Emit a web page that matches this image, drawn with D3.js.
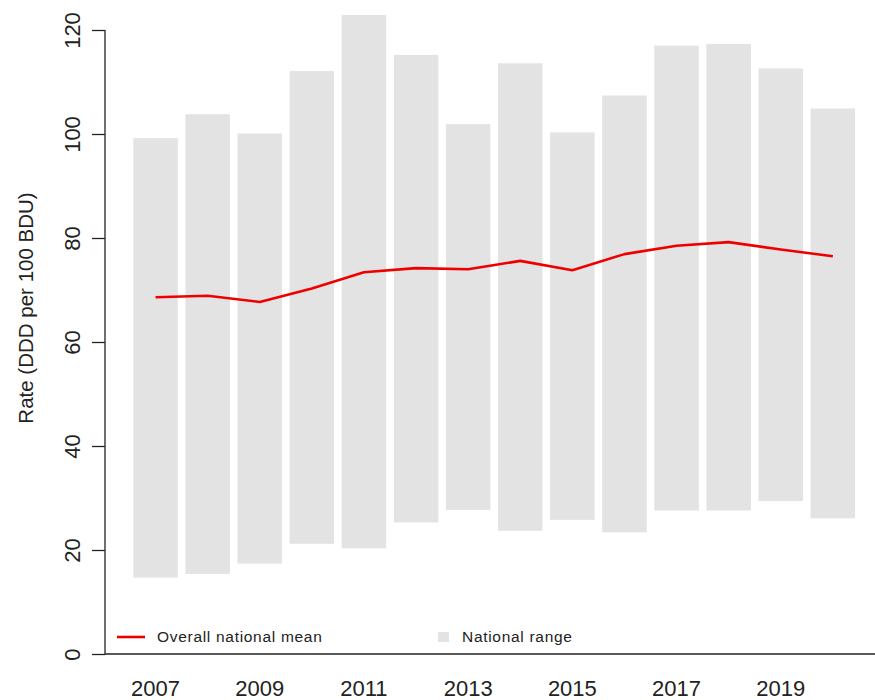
<!DOCTYPE html>
<html>
<head>
<meta charset="utf-8">
<script src="https://cdn.jsdelivr.net/npm/d3@7"></script>
<style>
  html, body { margin: 0; padding: 0; background: #fff; }
  svg { display: block; }
  text { font-family: "Liberation Sans Narrow", "Arial Narrow", "Liberation Sans", Arial, sans-serif; fill: #222; }
  text.legend { font-family: "Liberation Sans", Arial, sans-serif; }
</style>
</head>
<body>
<svg id="chart" width="875" height="700"></svg>
<script>
// Antibiotic use rate per year: national range (min–max) and overall national mean
const years = [2007, 2008, 2009, 2010, 2011, 2012, 2013, 2014, 2015, 2016, 2017, 2018, 2019, 2020];
const rangeMin = [14.7, 15.4, 17.4, 21.2, 20.3, 25.3, 27.7, 23.7, 25.8, 23.4, 27.6, 27.6, 29.4, 26.1];
const rangeMax = [99.2, 103.8, 100.1, 112.1, 122.9, 115.2, 101.9, 113.6, 100.3, 107.4, 117.0, 117.3, 112.6, 104.9];
const nationalMean = [68.6, 68.9, 67.7, 70.3, 73.4, 74.2, 74.0, 75.6, 73.8, 76.9, 78.5, 79.2, 77.8, 76.5];
const yTicks = [0, 20, 40, 60, 80, 100, 120];
const xTickYears = [2007, 2009, 2011, 2013, 2015, 2017, 2019];

const svg = d3.select("#chart");

const x = d3.scaleBand()
  .domain(years)
  .range([129.5, 858.9])
  .paddingInner(0.146)
  .paddingOuter(0.073);

const y = d3.scaleLinear().domain([0, 120]).range([654, 30]);

// Range bars
svg.append("g")
  .selectAll("rect")
  .data(years)
  .join("rect")
  .attr("x", d => x(d))
  .attr("width", x.bandwidth())
  .attr("y", (d, i) => y(rangeMax[i]))
  .attr("height", (d, i) => y(rangeMin[i]) - y(rangeMax[i]))
  .attr("fill", "#e3e3e3");

// Mean line
const line = d3.line()
  .x((d, i) => x(years[i]) + x.bandwidth() / 2)
  .y(d => y(d));

svg.append("path")
  .datum(nationalMean)
  .attr("d", line)
  .attr("fill", "none")
  .attr("stroke", "#ee0000")
  .attr("stroke-width", 2.6)
  .attr("stroke-linejoin", "round");

// Y axis
const yAxis = d3.axisLeft(y).tickValues(yTicks).tickSize(13).tickPadding(0).tickFormat(d3.format("d"));
const gy = svg.append("g").attr("transform", "translate(105,0)").call(yAxis);
gy.select(".domain").attr("stroke", "#222").attr("stroke-width", 1.3).attr("d", "M0," + y(120) + "V" + y(0));
gy.selectAll(".tick line").attr("stroke", "#222").attr("stroke-width", 1.3);
gy.selectAll(".tick text")
  .attr("font-size", 22)
  .attr("fill", "#222")
  .attr("text-anchor", "middle")
  .attr("x", 0)
  .attr("y", 0)
  .attr("dy", 0)
  .attr("transform", "translate(-25.5,0) rotate(-90)");

// X axis (baseline + labels on alternate years)
svg.append("line")
  .attr("x1", 105).attr("x2", 875)
  .attr("y1", y(0)).attr("y2", y(0))
  .attr("stroke", "#222").attr("stroke-width", 1.3);

const xAxis = d3.axisBottom(x).tickValues(xTickYears).tickSize(0).tickPadding(0);
const gx = svg.append("g").attr("transform", "translate(0," + y(0) + ")").call(xAxis);
gx.select(".domain").remove();
gx.selectAll(".tick text")
  .attr("font-size", 22)
  .attr("fill", "#222")
  .attr("dy", 0)
  .attr("y", 41.5);

// Y axis title
svg.append("text")
  .attr("transform", "translate(33," + 308 + ") rotate(-90)")
  .attr("text-anchor", "middle")
  .attr("font-size", 20.5)
  .attr("fill", "#333")
  .text("Rate (DDD per 100 BDU)");

// Legend
const legend = svg.append("g");
legend.append("line")
  .attr("x1", 117).attr("x2", 145)
  .attr("y1", 637).attr("y2", 637)
  .attr("stroke", "#ee0000").attr("stroke-width", 2.6);
legend.append("text")
  .attr("class", "legend")
  .attr("x", 157).attr("y", 642)
  .attr("font-size", 15.5)
  .attr("letter-spacing", 0.7)
  .text("Overall national mean");
legend.append("rect")
  .attr("x", 438).attr("y", 632)
  .attr("width", 11).attr("height", 10)
  .attr("fill", "#e3e3e3");
legend.append("text")
  .attr("class", "legend")
  .attr("x", 462).attr("y", 642)
  .attr("font-size", 15.5)
  .attr("letter-spacing", 0.7)
  .text("National range");
</script>
</body>
</html>
